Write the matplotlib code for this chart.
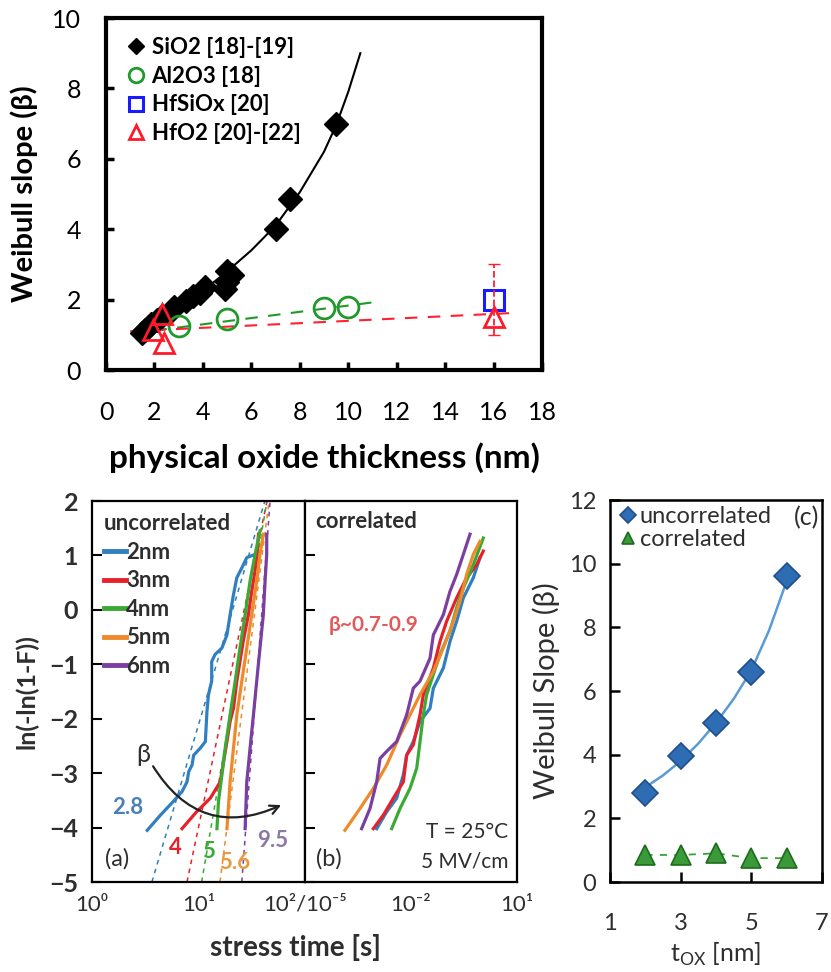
import matplotlib
matplotlib.use('Agg')
import matplotlib.pyplot as plt

plt.rcParams['font.family'] = ['Lato', 'DejaVu Sans']
plt.rcParams['mathtext.fontset'] = 'custom'
plt.rcParams['mathtext.rm'] = 'Lato'

# ---------------- top panel data: Weibull slope vs physical thickness ----------------
sio2_t = [1.5, 1.6, 1.85, 2.1, 2.3, 2.7, 2.8, 3.3, 3.6, 3.9, 4.1, 4.9, 5.0, 5.0, 5.2, 7.0, 7.6, 9.5]
sio2_b = [1.06, 1.15, 1.3, 1.43, 1.53, 1.67, 1.8, 1.95, 2.1, 2.2, 2.35, 2.3, 2.5, 2.8, 2.7, 4.0, 4.85, 7.0]
sio2_fit_t = [1.3, 2, 3, 4, 5, 6, 7, 8, 9, 9.5, 10, 10.5]
sio2_fit_b = [1.0, 1.35, 1.8, 2.25, 2.8, 3.4, 4.1, 5.05, 6.2, 6.95, 7.9, 9.0]

al2o3_t = [3.0, 5.0, 9.0, 10.0]
al2o3_b = [1.25, 1.45, 1.75, 1.8]
al2o3_fit_t = [2.0, 11.0]
al2o3_fit_b = [1.12, 1.92]

hfsiox_t = [16.0]
hfsiox_b = [2.0]

hfo2_t = [1.95, 2.3, 2.4, 16.0]
hfo2_b = [1.15, 1.58, 0.77, 1.5]
hfo2_err_t = [16.0]
hfo2_err_b = [1.5]
hfo2_err_lo = [0.5]
hfo2_err_hi = [1.5]
hfo2_fit_t = [1.0, 16.8]
hfo2_fit_b = [1.1, 1.62]

# ---------------- (a) uncorrelated Weibull plots ----------------
thick_names = ['2nm', '3nm', '4nm', '5nm', '6nm']
unc_t = [
    [3.3, 4.4, 5.8, 7.0, 7.8, 8.1, 8.7, 9.0, 10.4, 11.6, 12.0, 12.4, 13.3, 13.3, 14.3, 16.6,
     18.5, 19.8, 21.3, 22.9, 25.5, 28.4, 34.0, 36.6],
    [7.0, 9.6, 12.9, 16.0, 18.5, 19.8, 21.3, 22.9, 24.5, 26.3, 29.4, 31.6, 33.9, 35.2, 36.6],
    [14.9, 15.4, 16.6, 17.8, 19.8, 22.1, 24.5, 27.4, 30.5, 34.0, 36.6, 37.8],
    [18.5, 19.8, 21.3, 22.9, 25.5, 28.4, 31.6, 35.2, 37.8, 40.6],
    [27.4, 28.4, 30.5, 32.8, 35.2, 37.8, 40.6, 42.2, 43.7, 43.7],
]
unc_y = [
    [-4.05, -3.77, -3.52, -3.34, -3.16, -2.97, -2.85, -2.67, -2.54, -2.42, -1.87, -1.56, -1.31,
     -0.95, -0.82, -0.70, -0.46, -0.09, 0.28, 0.59, 0.77, 0.96, 1.02, 1.08],
    [-4.02, -3.71, -3.46, -3.16, -2.42, -2.05, -1.81, -1.31, -0.95, -0.58, -0.09, 0.34, 0.71, 0.96, 1.39],
    [-4.02, -3.52, -3.03, -2.54, -1.93, -1.31, -0.70, -0.09, 0.53, 1.02, 1.32, 1.45],
    [-4.02, -3.16, -2.54, -1.93, -1.31, -0.70, -0.09, 0.53, 1.02, 1.39],
    [-4.02, -3.16, -2.54, -1.93, -1.31, -0.70, -0.09, 0.53, 1.02, 1.39],
]
fit_bottom_t = [3.65, 7.8, 10.7, 15.9, 25.5]
fit_top_t = [42, 44, 44, 46, 47]
fit_y_ends = [-5, 2]
beta_labels = ['2.8', '4', '5', '5.6', '9.5']

# ---------------- (b) correlated Weibull plots ----------------
cor_t = [
    [1.07e-3, 2.05e-3, 3.93e-3, 6.07e-3, 7.54e-3, 1.16e-2, 1.80e-2, 3.45e-2, 4.29e-2, 8.22e-2,
     0.127, 0.196, 0.303, 0.581, 0.897],
    [8.6e-4, 1.65e-3, 3.16e-3, 6.07e-3, 7.54e-3, 1.16e-2, 1.80e-2, 2.23e-2, 4.29e-2, 6.62e-2,
     0.102, 0.196, 0.376, 0.722, 1.11],
    [2.84e-3, 4.89e-3, 9.37e-3, 1.45e-2, 1.80e-2, 2.23e-2, 2.77e-2, 4.29e-2, 6.62e-2, 0.127,
     0.196, 0.303, 0.581, 1.11],
    [1.35e-4, 3.6e-4, 8.6e-4, 2.05e-3, 4.89e-3, 9.37e-3, 1.80e-2, 4.29e-2, 8.22e-2, 0.158,
     0.244, 0.376, 0.581, 0.897],
    [4.0e-4, 6.9e-4, 1.07e-3, 1.33e-3, 2.05e-3, 3.93e-3, 7.54e-3, 1.16e-2, 1.80e-2, 3.45e-2,
     4.29e-2, 8.22e-2, 0.127, 0.196, 0.303, 0.468],
]
cor_y = [
    [-4.02, -3.71, -3.46, -3.03, -2.67, -2.42, -2.05, -1.81, -1.44, -1.07, -0.58, -0.21, 0.22, 0.59, 0.96],
    [-4.02, -3.77, -3.46, -3.16, -2.67, -2.48, -1.93, -1.56, -1.07, -0.58, -0.21, 0.22, 0.59, 0.83, 1.08],
    [-4.02, -3.65, -3.28, -2.91, -2.42, -1.93, -1.56, -1.19, -0.82, -0.39, 0.04, 0.40, 0.83, 1.32],
    [-4.05, -3.65, -3.28, -2.85, -2.30, -1.93, -1.56, -1.13, -0.70, -0.21, 0.16, 0.65, 1.02, 1.26],
    [-4.02, -3.65, -3.16, -2.73, -2.60, -2.42, -1.93, -1.44, -1.31, -0.89, -0.46, -0.09, 0.34, 0.65, 1.02, 1.39],
]

# ---------------- (c) Weibull slope vs tox ----------------
tox = [2, 3, 4, 5, 6]
beta_unc = [2.8, 3.95, 5.0, 6.6, 9.6]
beta_cor = [0.85, 0.85, 0.9, 0.75, 0.75]
beta_fit_t = [2.1, 2.5, 3, 3.5, 4, 4.5, 5, 5.5, 6]
beta_fit_b = [3.05, 3.35, 3.8, 4.35, 5.0, 5.75, 6.65, 7.9, 9.45]

line_colors = ['#2f7fc1', '#e8202a', '#3aaa35', '#ee8a2a', '#7a3fa0']
label_colors = ['#4a80b8', '#e8202a', '#3aaa35', '#e89a40', '#8a78a8']
ink = '#2e2e2e'

W, H = 831, 972
fig = plt.figure(figsize=(W / 100, H / 100), dpi=100)


def box(x0, y0, x1, y1):
    return [x0 / W, 1 - y1 / H, (x1 - x0) / W, (y1 - y0) / H]


# ======== top panel ========
ax = fig.add_axes(box(106, 18, 542, 370))
ax.plot(sio2_fit_t, sio2_fit_b, color='black', lw=1.5, zorder=2)
ax.plot(al2o3_fit_t, al2o3_fit_b, color='#1f9a2a', lw=1.5, ls=(0, (6, 5)), zorder=2)
ax.plot(hfo2_fit_t, hfo2_fit_b, color='#ff2030', lw=1.5, ls=(0, (6, 5)), zorder=2)
h1, = ax.plot(sio2_t, sio2_b, 'D', color='black', ms=12, ls='none', zorder=3,
              label='SiO2 [18]-[19]')
h2, = ax.plot(al2o3_t, al2o3_b, 'o', mfc='none', mec='#1f9a2a', mew=2, ms=15, ls='none',
              zorder=4, label='Al2O3 [18]')
h3, = ax.plot(hfsiox_t, hfsiox_b, 's', mfc='none', mec='#1a1aff', mew=2.2, ms=15, ls='none',
              zorder=4, label='HfSiOx [20]')
eb = ax.errorbar(hfo2_err_t, hfo2_err_b, yerr=[hfo2_err_lo, hfo2_err_hi], fmt='none',
                 ecolor='#ff2030', capsize=4, elinewidth=1.3, zorder=4)
eb[2][0].set_linestyle('--')
h4, = ax.plot(hfo2_t, hfo2_b, '^', mfc='none', mec='#ff1a2a', mew=2, ms=15, ls='none',
              zorder=5, label='HfO2 [20]-[22]')
ax.set_xlim(0, 18)
ax.set_ylim(0, 10)
ax.set_xticks(range(0, 19, 2))
ax.set_yticks(range(0, 11, 2))
ax.tick_params(direction='in', length=6, width=2.5, labelsize=18)
ax.tick_params(axis='x', pad=22)
ax.tick_params(axis='y', pad=18)
for s in ax.spines.values():
    s.set_linewidth(3)
ax.set_ylabel('Weibull slope (β)', fontsize=21, fontweight='bold')
ax.set_xlabel('physical oxide thickness (nm)', fontsize=24, fontweight='bold')
ax.yaxis.set_label_coords(-0.155, 0.5)
ax.xaxis.set_label_coords(0.5, -0.205)
ax.legend(handles=[h1, h2, h3, h4], loc='upper left', frameon=False,
          prop=dict(weight='bold', size=16), handletextpad=0.2, labelspacing=0.35,
          borderaxespad=0.45, markerscale=0.7, handlelength=1.0)

# ======== (a) uncorrelated ========
axa = fig.add_axes(box(92, 501, 305, 882))
for i in range(5):
    axa.plot(unc_t[i], unc_y[i], color=line_colors[i], lw=2.3, label=thick_names[i], zorder=3)
    axa.plot([fit_bottom_t[i], fit_top_t[i]], fit_y_ends, color=line_colors[i], lw=1.1,
             ls=(0, (3, 3)), zorder=2)
axa.set_xscale('log')
axa.set_xlim(1, 100)
axa.set_ylim(-5, 2)
axa.set_yticks(range(-5, 3))
axa.set_xticks([1, 10])
axa.set_xticklabels(['10⁰', '10¹'])
axa.minorticks_off()
axa.tick_params(axis='y', direction='in', length=7, width=1.5, labelsize=18, pad=10,
                labelcolor=ink)
for lab in axa.get_yticklabels():
    lab.set_fontweight('bold')
axa.tick_params(axis='x', length=0, labelsize=16, pad=9, labelcolor=ink)
for s in axa.spines.values():
    s.set_linewidth(1.6)
axa.set_ylabel('ln(-ln(1-F))', fontsize=18, fontweight='bold', color=ink)
axa.yaxis.set_label_coords(-0.25, 0.5)
leg = axa.legend(loc='upper left', frameon=False, title='uncorrelated',
                 prop=dict(weight='bold', size=16), title_fontproperties=dict(weight='bold', size=16),
                 handlelength=1.0, handletextpad=0.0, labelspacing=0.34, borderaxespad=0.25,
                 alignment='left', borderpad=0.3)
for t in leg.get_texts():
    t.set_color(ink)
leg.get_title().set_color(ink)
for ln in leg.get_lines():
    ln.set_linewidth(3.5)

label_pos = [(0.17, 0.195), (0.39, 0.09), (0.545, 0.08), (0.67, 0.05), (0.85, 0.11)]
for i in range(5):
    axa.text(label_pos[i][0], label_pos[i][1], beta_labels[i], transform=axa.transAxes,
             color=label_colors[i], fontsize=16, fontweight='bold', ha='center', va='center')
axa.text(0.24, 0.335, 'β', transform=axa.transAxes, fontsize=18, color=ink,
         ha='center', va='center')
axa.annotate('', xy=(0.9, 0.205), xytext=(0.28, 0.31), xycoords='axes fraction',
             arrowprops=dict(arrowstyle='->', connectionstyle='arc3,rad=0.45',
                             color='#222222', lw=1.6, mutation_scale=16))
axa.text(0.06, 0.06, '(a)', transform=axa.transAxes, fontsize=17, color=ink,
         ha='left', va='center')
axa.text(100, -0.032, '10²/10⁻⁵', transform=axa.get_xaxis_transform(), fontsize=16,
         color=ink, ha='center', va='top')

# ======== (b) correlated ========
axb = fig.add_axes(box(305, 501, 517, 882))
for i in range(5):
    axb.plot(cor_t[i], cor_y[i], color=line_colors[i], lw=2.3, zorder=3)
axb.set_xscale('log')
axb.set_xlim(1e-5, 1e1)
axb.set_ylim(-5, 2)
axb.set_yticks(range(-5, 3))
axb.set_yticklabels([])
axb.set_xticks([1e-2, 1e1])
axb.set_xticklabels(['10⁻²', '10¹'])
axb.minorticks_off()
axb.tick_params(axis='y', direction='in', length=7, width=1.5)
axb.tick_params(axis='x', length=0, labelsize=16, pad=9, labelcolor=ink)
for s in axb.spines.values():
    s.set_linewidth(1.6)
axb.text(0.05, 0.945, 'correlated', transform=axb.transAxes, fontsize=16, fontweight='bold',
         color=ink, ha='left', va='center')
axb.text(0.11, 0.675, 'β~0.7-0.9', transform=axb.transAxes, fontsize=15, fontweight='bold',
         color='#e05a5a', ha='left', va='center')
axb.text(0.96, 0.13, 'T = 25°C', transform=axb.transAxes, fontsize=15, color=ink,
         ha='right', va='center')
axb.text(0.96, 0.055, '5 MV/cm', transform=axb.transAxes, fontsize=15, color=ink,
         ha='right', va='center')
axb.text(0.05, 0.06, '(b)', transform=axb.transAxes, fontsize=17, color=ink,
         ha='left', va='center')
fig.text(295 / W, 1 - 947 / H, 'stress time [s]', fontsize=20, fontweight='bold', color=ink,
         ha='center', va='center')

# ======== (c) Weibull slope vs tox ========
axc = fig.add_axes(box(610, 500, 822, 882))
axc.plot(beta_fit_t, beta_fit_b, color='#5b9bd5', lw=1.8, zorder=2)
axc.plot(tox, beta_cor, color='#3aa03a', lw=1.3, ls=(0, (4, 4)), zorder=2)
hu, = axc.plot(tox, beta_unc, 'D', ms=13, mfc='#2e6db4', mec='#1f4e8a', mew=1.2, ls='none',
               zorder=3, label='uncorrelated')
hc, = axc.plot(tox, beta_cor, '^', ms=15, mfc='#3a9a3a', mec='#1e6b1e', mew=1.2, ls='none',
               zorder=3, label='correlated')
axc.set_xlim(1, 7)
axc.set_ylim(0, 12)
axc.set_xticks([1, 3, 5, 7])
axc.set_yticks(range(0, 13, 2))
axc.tick_params(direction='in', length=7, width=1.8, labelsize=17, labelcolor=ink)
axc.tick_params(axis='x', pad=22)
axc.tick_params(axis='y', pad=10)
for s in axc.spines.values():
    s.set_linewidth(1.8)
axc.set_ylabel('Weibull Slope (β)', fontsize=21, color=ink)
axc.yaxis.set_label_coords(-0.235, 0.5)
axc.set_xlabel('t$_{\\rm OX}$ [nm]', fontsize=18, color=ink)
axc.xaxis.set_label_coords(0.5, -0.155)
lc = axc.legend(handles=[hu, hc], loc='upper left', frameon=False, prop=dict(size=17),
                handletextpad=0.0, labelspacing=0.1, borderaxespad=0.05, markerscale=0.6,
                handlelength=1.0, borderpad=0.2)
for t in lc.get_texts():
    t.set_color(ink)
axc.text(0.985, 0.955, '(c)', transform=axc.transAxes, fontsize=18, color=ink,
         ha='right', va='center')

fig.savefig('out.png', dpi=100)
